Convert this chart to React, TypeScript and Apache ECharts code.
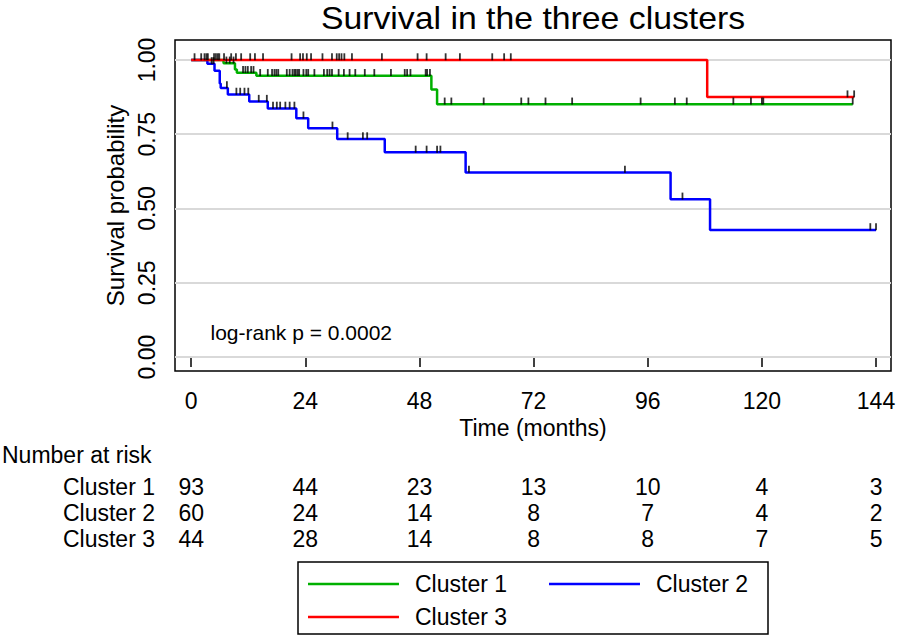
import React, { useEffect, useRef } from 'react';
import * as echarts from 'echarts';

const FONT = '"Liberation Sans", Arial, Helvetica, sans-serif';

const titleText = 'Survival in the three clusters';
const xTicks = [0, 24, 48, 72, 96, 120, 144];
const yTicks = [0, 0.25, 0.5, 0.75, 1];
const clusterNames = ['Cluster 1', 'Cluster 2', 'Cluster 3'];
const clusterColors = ['#00B000', '#0000FF', '#FF0000'];

// Kaplan-Meier step points (time in months, survival after the step)
const c1Times = [0, 6.8, 9.2, 9.6, 13.7, 50.5, 51.7, 139.1];
const c1Surv = [1, 0.989, 0.968, 0.957, 0.947, 0.901, 0.851, 0.851];
const c2Times = [0, 3.4, 4.9, 6.0, 6.2, 7.7, 12.2, 16.1, 22.1, 24.6, 30.7, 40.7, 57.7, 100.8, 109.1, 144];
const c2Surv = [1, 0.987, 0.964, 0.921, 0.906, 0.884, 0.86, 0.837, 0.804, 0.77, 0.734, 0.689, 0.621, 0.531, 0.428, 0.428];
const c3Times = [0, 108.5, 139.4];
const c3Surv = [1, 0.875, 0.875];

// censoring times
const c1Censor = [7.4, 8.1, 8.9, 10.9, 11.4, 11.9, 12.6, 13.1, 14.5, 16.1, 17.0, 17.5, 17.9, 18.3, 20.1, 20.7, 21.3, 21.7, 22.0, 22.4, 22.7, 23.6, 24.2, 24.6, 25.9, 27.9, 28.6, 29.1, 29.6, 31.0, 32.1, 33.3, 34.5, 36.5, 38.5, 42.0, 44.9, 45.4, 46.1, 49.3, 49.6, 50.2, 53.3, 54.7, 61.5, 69.4, 70.9, 74.5, 80.1, 94.5, 101.7, 104.2, 114.0, 117.7, 120.0, 120.3, 139.1];
const c2Censor = [4.3, 4.7, 7.5, 9.5, 10.3, 11.2, 12.0, 14.2, 15.9, 17.2, 18.0, 18.7, 19.8, 20.7, 21.7, 23.6, 29.7, 32.9, 36.1, 37.0, 47.2, 49.5, 51.7, 52.4, 58.4, 91.2, 103.3, 142.8, 144];
const c3Censor = [0.7, 2.1, 2.8, 3.2, 3.5, 4.8, 5.2, 5.6, 5.9, 6.9, 8.4, 9.4, 10.5, 12.4, 13.4, 15.1, 21.1, 22.9, 23.5, 24.3, 25.2, 27.6, 29.6, 30.6, 31.1, 31.6, 32.2, 33.8, 40.1, 47.6, 49.5, 53.5, 56.5, 63.3, 65.8, 67.2, 138.0, 139.4];

// number at risk
const riskTimes = [0, 24, 48, 72, 96, 120, 144];
const risk1 = [93, 44, 23, 13, 10, 4, 3];
const risk2 = [60, 24, 14, 8, 7, 4, 2];
const risk3 = [44, 28, 14, 8, 8, 7, 5];

const pValueText = 'log-rank p = 0.0002';

const X_MIN = -3.41;
const X_MAX = 147.15;
const Y_MIN = -0.0471;
const Y_MAX = 1.0673;

// legend icon: a thin horizontal line centred in a 91x26 box
const LINE_ICON = 'path://M0,0L91,0L91,0.01Z M0,11.75L91,11.75L91,14.25L0,14.25Z M0,26L91,26L91,26.01Z';

function stepAt(times: number[], surv: number[], t: number) {
  let v = surv[0];
  for (let i = 0; i < times.length; i++) {
    if (times[i] <= t) v = surv[i];
  }
  return v;
}

export default function App() {
  const ref = useRef<HTMLDivElement>(null);
  useEffect(() => {
    document.body.style.margin = '0';
    if (!ref.current) return;
    const chart = echarts.init(ref.current, undefined, { renderer: 'svg' });

    const curves = [
      [c1Times, c1Surv, c1Censor],
      [c2Times, c2Surv, c2Censor],
      [c3Times, c3Surv, c3Censor],
    ] as [number[], number[], number[]][];
    const risks = [risk1, risk2, risk3];

    const series: any[] = [
      {
        type: 'line',
        name: 'gridlines',
        xAxisIndex: 0,
        yAxisIndex: 0,
        data: [],
        z: 1,
        silent: true,
        markLine: {
          silent: true,
          z: 1,
          symbol: 'none',
          label: { show: false },
          lineStyle: { color: '#d9d9d9', width: 2, type: 'solid' },
          data: yTicks.map((v) => ({ yAxis: v })),
        },
      },
    ];

    curves.forEach(([times, surv], i) => {
      series.push({
        type: 'line',
        name: clusterNames[i],
        xAxisIndex: 0,
        yAxisIndex: 0,
        step: 'end',
        symbol: 'none',
        showSymbol: false,
        color: clusterColors[i],
        lineStyle: { color: clusterColors[i], width: 2.5 },
        data: times.map((t, j) => [t, surv[j]]),
        z: 3,
      });
    });

    curves.forEach(([times, surv, cens], i) => {
      series.push({
        type: 'scatter',
        name: 'censor' + (i + 1),
        xAxisIndex: 0,
        yAxisIndex: 0,
        symbol: 'rect',
        symbolSize: [1.8, 7],
        symbolOffset: [0, -3.2],
        itemStyle: { color: '#000' },
        data: cens.map((t) => [t, stepAt(times, surv, t)]),
        z: 4,
        silent: true,
      });
    });

    const riskData: any[] = [];
    risks.forEach((row, i) => {
      row.forEach((v, j) => {
        riskData.push([riskTimes[j], clusterNames[i], v]);
      });
    });
    series.push({
      type: 'scatter',
      name: 'risk',
      xAxisIndex: 1,
      yAxisIndex: 1,
      symbolSize: 1,
      itemStyle: { color: 'rgba(0,0,0,0)' },
      label: {
        show: true,
        position: 'inside',
        formatter: (p: any) => String(p.value[2]),
        fontSize: 23,
        color: '#000',
        opacity: 1,
        textBorderWidth: 0,
        fontFamily: FONT,
      },
      labelLayout: { hideOverlap: false },
      data: riskData,
      silent: true,
    });

    const legendCommon = {
      left: 308,
      padding: 0,
      itemWidth: 91,
      itemHeight: 26,
      itemGap: 42,
      icon: LINE_ICON,
      selectedMode: false,
      textStyle: { fontSize: 23, color: '#000', fontFamily: FONT, padding: [0, 0, 0, 11] },
    };

    const option: any = {
      animation: false,
      backgroundColor: '#fff',
      textStyle: { fontFamily: FONT },
      grid: [
        {
          left: 175,
          top: 40,
          width: 716,
          height: 331,
          show: true,
          borderColor: '#000',
          borderWidth: 1.5,
          backgroundColor: 'transparent',
          containLabel: false,
          outerBoundsMode: 'none',
        },
        {
          left: 175,
          top: 474,
          width: 716,
          height: 78,
          show: false,
          containLabel: false,
          outerBoundsMode: 'none',
        },
      ],
      xAxis: [
        {
          type: 'value',
          gridIndex: 0,
          min: X_MIN,
          max: X_MAX,
          axisLine: { show: false },
          splitLine: { show: false },
          axisTick: { show: true, customValues: xTicks, length: 10, lineStyle: { color: '#000', width: 1.5 } },
          axisLabel: { customValues: xTicks, fontSize: 23, color: '#000', fontFamily: FONT, margin: 18 },
          name: 'Time (months)',
          nameLocation: 'middle',
          nameGap: 43,
          nameTextStyle: { fontSize: 23, color: '#000', fontFamily: FONT },
        },
        {
          type: 'value',
          gridIndex: 1,
          min: X_MIN,
          max: X_MAX,
          show: false,
        },
      ],
      yAxis: [
        {
          type: 'value',
          gridIndex: 0,
          min: Y_MIN,
          max: Y_MAX,
          axisLine: { show: false },
          splitLine: { show: false },
          axisTick: { show: true, customValues: yTicks, length: 9, lineStyle: { color: '#000', width: 1.5 } },
          axisLabel: {
            customValues: yTicks,
            rotate: 90,
            formatter: (v: number) => v.toFixed(2),
            fontSize: 23,
            color: '#000',
            fontFamily: FONT,
            margin: 17,
          },
          name: 'Survival probability',
          nameLocation: 'middle',
          nameGap: 47,
          nameTextStyle: { fontSize: 24, color: '#000', fontFamily: FONT },
        },
        {
          type: 'category',
          gridIndex: 1,
          data: clusterNames,
          inverse: true,
          axisLine: { show: false },
          axisTick: { show: false },
          splitLine: { show: false },
          axisLabel: { interval: 0, fontSize: 23, color: '#000', fontFamily: FONT, margin: 20 },
        },
      ],
      legend: [
        { ...legendCommon, top: 571, data: [clusterNames[0], clusterNames[1]] },
        { ...legendCommon, top: 604, data: [clusterNames[2]] },
      ],
      graphic: [
        {
          type: 'text',
          x: 533,
          y: 18,
          scaleX: 1.09,
          style: {
            text: titleText,
            fontSize: 31,
            fontFamily: FONT,
            fill: '#000',
            align: 'center',
            textAlign: 'center',
            verticalAlign: 'middle',
            textVerticalAlign: 'middle',
          },
        },
        {
          type: 'text',
          x: 210.5,
          y: 332,
          style: {
            text: pValueText,
            fontSize: 21,
            fontFamily: FONT,
            fill: '#000',
            align: 'left',
            textAlign: 'left',
            verticalAlign: 'middle',
            textVerticalAlign: 'middle',
          },
        },
        {
          type: 'text',
          x: 2,
          y: 455,
          style: {
            text: 'Number at risk',
            fontSize: 23,
            fontFamily: FONT,
            fill: '#000',
            align: 'left',
            textAlign: 'left',
            verticalAlign: 'middle',
            textVerticalAlign: 'middle',
          },
        },
        {
          type: 'rect',
          shape: { x: 298, y: 562, width: 470, height: 72 },
          style: { fill: 'none', stroke: '#000', lineWidth: 1.5 },
          z: -1,
        },
      ],
      series,
    };

    chart.setOption(option);
    return () => chart.dispose();
  }, []);
  return <div ref={ref} style={{ width: 897, height: 643 }} />;
}
